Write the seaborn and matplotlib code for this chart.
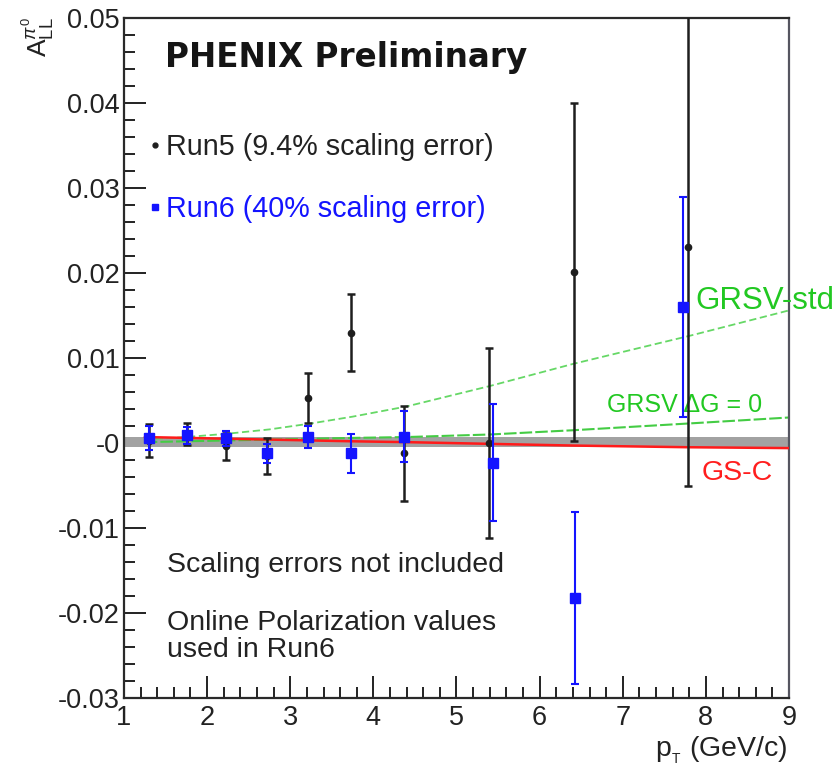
import matplotlib
matplotlib.use("Agg")
import matplotlib.pyplot as plt
from matplotlib.ticker import MultipleLocator, FuncFormatter
from matplotlib.lines import Line2D
import seaborn as sns

# Run5 pi0 A_LL (black)
run5_pt = [1.30, 1.76, 2.23, 2.72, 3.21, 3.73, 4.37, 5.39, 6.41, 7.79]
run5_all = [0.00025, 0.0011, -0.0004, -0.0015, 0.0053, 0.0130, -0.0012, 0.0000, 0.0201, 0.0231]
run5_err = [0.00195, 0.0013, 0.0016, 0.0021, 0.0029, 0.0045, 0.0056, 0.0112, 0.0199, 0.0282]

# Run6 pi0 A_LL (blue)
run6_pt = [1.30, 1.76, 2.23, 2.72, 3.21, 3.73, 4.37, 5.44, 6.43, 7.73]
run6_all = [0.0006, 0.0009, 0.00055, -0.0012, 0.0007, -0.0012, 0.00075, -0.0023, -0.0182, 0.0160]
run6_err = [0.0014, 0.0010, 0.0009, 0.0011, 0.0013, 0.0023, 0.0030, 0.0069, 0.0101, 0.0129]

# NLO expectations
theory_pt = [1.25, 1.75, 2.25, 2.75, 3.25, 3.75, 4.4, 5.4, 6.4, 7.8, 9.0]
grsv_std = [0.0004, 0.0007, 0.0011, 0.0016, 0.0023, 0.0031, 0.0043, 0.0067, 0.0093, 0.0126, 0.0156]
grsv_zero = [0.0001, 0.0002, 0.0003, 0.0004, 0.0005, 0.0006, 0.0007, 0.0010, 0.0015, 0.0023, 0.0030]
gs_c = [0.0007, 0.0006, 0.0005, 0.0004, 0.0003, 0.0002, 0.0001, -0.0001, -0.0003, -0.0005, -0.0006]

# systematic band around zero
band_pt = [1.0, 9.0]
band_lo = [-0.0005, -0.0005]
band_hi = [0.0007, 0.0007]

y_ticks = [-0.03, -0.02, -0.01, 0.0, 0.01, 0.02, 0.03, 0.04, 0.05]

sns.set_theme(style="ticks")
plt.rcParams['font.family'] = ['Liberation Sans', 'DejaVu Sans']
plt.rcParams['mathtext.fontset'] = 'custom'
plt.rcParams['mathtext.rm'] = 'Liberation Sans'
plt.rcParams['mathtext.it'] = 'Liberation Sans:italic'
plt.rcParams['mathtext.bf'] = 'Liberation Sans:bold'
plt.rcParams['axes.unicode_minus'] = False

fig = plt.figure(figsize=(8.37, 7.72), dpi=100)
ax = fig.add_axes([124 / 837, 1 - 698 / 772, 665 / 837, 680 / 772])
ax.set_xlim(1, 9)
ax.set_ylim(-0.03, 0.05)

ax.fill_between(band_pt, band_lo, band_hi, color='#a2a2a2', lw=0, zorder=1)
sns.lineplot(x=theory_pt, y=grsv_std, ax=ax, color='#66d866', lw=1.3,
             linestyle=(0, (4, 2)), zorder=2)
sns.lineplot(x=theory_pt, y=grsv_zero, ax=ax, color='#44cc44', lw=1.5,
             linestyle=(0, (6, 1.5)), zorder=2)
sns.lineplot(x=theory_pt, y=gs_c, ax=ax, color='#ff1a1a', lw=1.8, zorder=3)

ax.errorbar(run5_pt, run5_all, yerr=run5_err, fmt='o', color='#1e1e1e',
            ms=4.5, elinewidth=1.8, capsize=3, capthick=1.8, zorder=4)
ax.errorbar(run6_pt, run6_all, yerr=run6_err, fmt='s', color='#1414ff',
            ms=7, elinewidth=1.5, capsize=3, capthick=1.5, zorder=5)

ax.xaxis.set_major_locator(MultipleLocator(1))
ax.xaxis.set_minor_locator(MultipleLocator(0.2))
ax.set_yticks(y_ticks)
ax.yaxis.set_minor_locator(MultipleLocator(0.002))
ax.yaxis.set_major_formatter(FuncFormatter(
    lambda v, p: '-0' if abs(v) < 1e-9 else f'{v:.2f}'))
ax.xaxis.set_major_formatter(FuncFormatter(lambda v, p: f'{v:.0f}'))
ax.tick_params(which='both', direction='in', top=False, right=False,
               width=1.4, color='#222222', labelsize=19.5, labelcolor='#222222')
ax.tick_params(which='major', length=15.5)
ax.tick_params(which='minor', length=8)
ax.tick_params(axis='y', pad=3)
ax.tick_params(axis='x', pad=5)
for side in ['left', 'bottom', 'top', 'right']:
    ax.spines[side].set_linewidth(1.6)
    ax.spines[side].set_color('#2a2a2a')
ax.spines['right'].set_color('#555560')
ax.set_xlabel('')
ax.set_ylabel('')

# axis titles, ROOT style
fig.text(38 / 837, 1 - 17 / 772, r'$\mathrm{A}_{\mathrm{LL}}^{\pi^{0}}$', rotation=90,
         ha='center', va='top', fontsize=19, color='#222222')
fig.text(787 / 837, 1 - 756 / 772, r'p$_{_{\mathrm{T}}}$ (GeV/c)', ha='right',
         va='baseline', fontsize=20.5, color='#222222')

# run legend
handles = [Line2D([], [], marker='o', ls='none', color='#1e1e1e', ms=3.5),
           Line2D([], [], marker='s', ls='none', color='#1414ff', ms=5)]
leg = ax.legend(handles, ['Run5 (9.4% scaling error)', 'Run6 (40% scaling error)'],
                loc='upper left', bbox_to_anchor=(150 / 837, 1 - 133 / 772),
                bbox_transform=fig.transFigure, frameon=False, fontsize=20.7,
                handlelength=0.35, handletextpad=0.2, labelspacing=1.18,
                borderpad=0, borderaxespad=0, labelcolor=['#222222', '#1414ff'])


def axf(px, py):
    return ((px - 124) / 665, (698 - py) / 680)


ax.text(*axf(165, 67), 'PHENIX Preliminary', transform=ax.transAxes,
        fontsize=23.5, fontweight='bold', family=['DejaVu Sans'], color='#151515',
        va='baseline', ha='left')
ax.text(*axf(166.7, 571.7), 'Scaling errors not included', transform=ax.transAxes,
        fontsize=20.5, color='#222222', va='baseline', ha='left')
ax.text(*axf(166.7, 630), 'Online Polarization values', transform=ax.transAxes,
        fontsize=20.5, color='#222222', va='baseline', ha='left')
ax.text(*axf(166.7, 656.7), 'used in Run6', transform=ax.transAxes,
        fontsize=20.5, color='#222222', va='baseline', ha='left')
ax.text(*axf(695, 309), 'GRSV-std', transform=ax.transAxes, fontsize=22.5,
        color='#22c822', va='baseline', ha='left', clip_on=False)
ax.text(*axf(607, 411.7), 'GRSV \u0394G = 0', transform=ax.transAxes, fontsize=18,
        color='#22c822', va='baseline', ha='left')
ax.text(*axf(701.7, 480), 'GS-C', transform=ax.transAxes, fontsize=20.5,
        color='#ff1e1e', va='baseline', ha='left')

fig.savefig('out.png', dpi=100, facecolor='white')
